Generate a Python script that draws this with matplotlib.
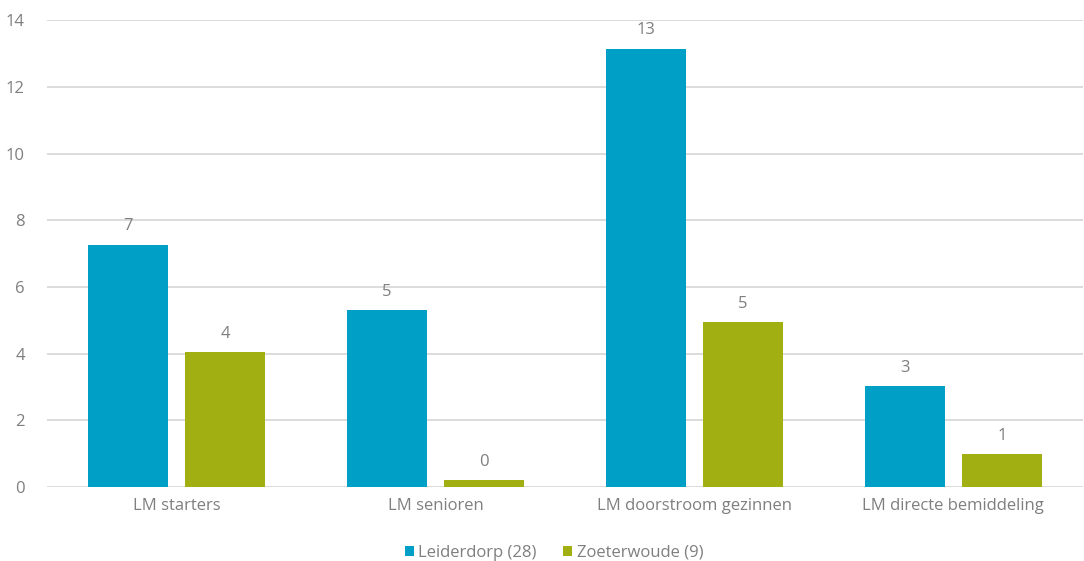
import matplotlib
matplotlib.use("Agg")
import matplotlib.pyplot as plt
import numpy as np

categories = ["LM starters", "LM senioren", "LM doorstroom gezinnen", "LM directe bemiddeling"]
series_names = ["Leiderdorp (28)", "Zoeterwoude (9)"]
leiderdorp = [7.27, 5.31, 13.15, 3.03]
zoeterwoude = [4.05, 0.21, 4.95, 0.99]
leiderdorp_labels = ["7", "5", "13", "3"]
zoeterwoude_labels = ["4", "0", "5", "1"]
yticks = [0, 2, 4, 6, 8, 10, 12, 14]

blue = "#00A0C6"
green = "#A2AF12"
grey = "#7F7F7F"

plt.rcParams['font.family'] = ['Open Sans', 'DejaVu Sans']

fig = plt.figure(figsize=(10.84, 5.61), dpi=100)
ax = fig.add_axes([0.0434, 0.132, 0.9556, 0.8315])

x = np.arange(len(categories))
w = 0.309
off = 0.187
b1 = ax.bar(x - off, leiderdorp, w, color=blue, label=series_names[0], zorder=3)
b2 = ax.bar(x + off, zoeterwoude, w, color=green, label=series_names[1], zorder=3)

for bars, labs in ((b1, leiderdorp_labels), (b2, zoeterwoude_labels)):
    for rect, lab in zip(bars, labs):
        ax.annotate(lab, (rect.get_x() + rect.get_width() / 2, rect.get_height()),
                    xytext=(0, 7.5), textcoords="offset points",
                    ha="center", va="bottom", color=grey, fontsize=12)

ax.set_xlim(-0.5, 3.5)
ax.set_ylim(0, 14)
ax.set_yticks(yticks)
ax.set_yticklabels([str(t) for t in yticks])
ax.set_xticks(x)
ax.set_xticklabels(categories)
ax.tick_params(axis="both", length=0, colors=grey, labelsize=12)
ax.tick_params(axis="y", pad=16)
ax.tick_params(axis="x", pad=8)
for s in ax.spines.values():
    s.set_visible(False)
ax.yaxis.grid(True, color="#D9D9D9", linewidth=1.3, zorder=0)
ax.set_axisbelow(True)

leg = fig.legend(handles=[b1, b2], labels=series_names, loc="center",
                 bbox_to_anchor=(0.511, 0.015), ncol=2, frameon=False,
                 fontsize=12, handlelength=0.55, handleheight=0.55,
                 handletextpad=0.25, columnspacing=1.6, labelcolor=grey)

fig.savefig("out.png", dpi=100)
